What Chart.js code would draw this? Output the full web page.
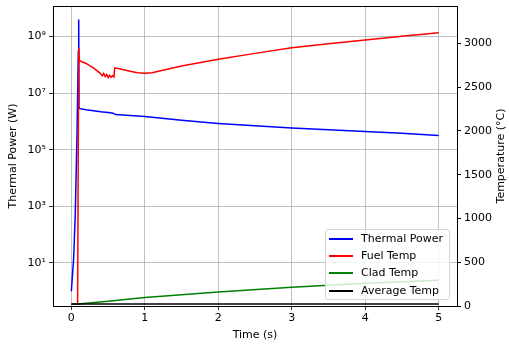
<!DOCTYPE html>
<html>
<head>
<meta charset="utf-8">
<script src="https://cdn.jsdelivr.net/npm/chart.js@4.4.0/dist/chart.umd.min.js"></script>
<style>
    body { margin: 0; background: #fff; }
    .chartbox { position: relative; width: 509px; height: 344px; }
    .chart-legend {
        position: absolute; left: 325px; top: 229px; width: 125px; height: 71px;
        margin: 0; padding: 0; list-style: none; box-sizing: border-box;
        border: 1px solid #d6d6d6; border-radius: 3px; background: rgba(255,255,255,0.8);
        font: 11px "DejaVu Sans", sans-serif; color: #000;
    }
    .chart-legend li { position: absolute; left: 0; height: 14px; line-height: 14px; white-space: nowrap; }
    .legend-color { display: inline-block; width: 24px; height: 0; border-top: 2px solid; vertical-align: middle; margin: 0 8px 0 3px; }
</style>
</head>
<body>
<div class="chartbox">
    <canvas id="myChart" width="509" height="344"></canvas>
</div>
<script>
// values
var powerTime = [0, 0.014, 0.031, 0.054, 0.077, 0.095, 0.1, 0.104, 0.125, 0.2, 0.3, 0.4, 0.5, 0.57, 0.6, 0.7, 1.0, 1.5, 2, 2.5, 3, 3.5, 4, 4.5, 5];
var thermalPower = [1, 3.5, 14, 630, 4e5, 3e8, 4e9, 2.9e6, 2.8e6, 2.6e6, 2.4e6, 2.2e6, 2.05e6, 1.95e6, 1.75e6, 1.68e6, 1.5e6, 1.1e6, 8.5e5, 7e5, 5.9e5, 5.1e5, 4.4e5, 3.8e5, 3.2e5];

var fuelTime = [0, 0.085, 0.1, 0.11, 0.2, 0.3, 0.39, 0.42, 0.44, 0.46, 0.48, 0.5, 0.52, 0.54, 0.56, 0.58, 0.59, 0.7, 0.8, 0.9, 1.0, 1.1, 1.2, 1.5, 2, 2.5, 3, 3.5, 4, 4.5, 5];
var fuelTemp = [20, 20, 2950, 2800, 2770, 2720, 2660, 2630, 2655, 2620, 2645, 2610, 2635, 2612, 2630, 2615, 2720, 2700, 2680, 2665, 2657, 2665, 2684, 2740, 2817, 2885, 2950, 2995, 3038, 3080, 3121];

var cladTime = [0, 0.09, 0.5, 1, 2, 3, 4, 5];
var cladTemp = [20, 22, 55, 96, 160, 215, 260, 295];

var avgTime = [0, 5];
var avgTemp = [24, 24];

var xTicks = [0, 1, 2, 3, 4, 5];
var powerTicks = [1e1, 1e3, 1e5, 1e7, 1e9];
var powerTickLabels = ['10¹', '10³', '10⁵', '10⁷', '10⁹'];
var tempTicks = [0, 500, 1000, 1500, 2000, 2500, 3000];

function pts(xs, ys) {
    return xs.map(function (x, i) { return { x: x, y: ys[i] }; });
}

var FONT = { family: '"DejaVu Sans", sans-serif', size: 11 };
var GRID = '#b0b0b0';

var framePlugin = {
    id: 'frame',
    afterDatasetsDraw: function (chart) {
        var a = chart.chartArea, c = chart.ctx;
        c.save();
        c.strokeStyle = '#000';
        c.lineWidth = 1;
        c.strokeRect(Math.round(a.left) + 0.5, Math.round(a.top) + 0.5, Math.round(a.right - a.left), Math.round(a.bottom - a.top));
        // right axis title reads bottom to top, like the left one
        c.translate(501, (a.top + a.bottom) / 2);
        c.rotate(-Math.PI / 2);
        c.font = FONT.size + 'px ' + FONT.family;
        c.fillStyle = '#000';
        c.textAlign = 'center';
        c.textBaseline = 'middle';
        c.fillText('Temperature (°C)', 0, 0);
        c.restore();
    }
};

// fixed box sizes so the plot area sits where the reference has it
function fitBox(w, h) {
    return function (s) {
        if (w) s.width = w;
        if (h) s.height = h;
        s.paddingTop = 0; s.paddingBottom = 0; s.paddingLeft = 0; s.paddingRight = 0;
    };
}

var ctx = document.getElementById('myChart').getContext('2d');
var myChart = new Chart(ctx, {
    type: 'line',
    data: {
        datasets: [
            { label: 'Thermal Power', data: pts(powerTime, thermalPower), borderColor: '#0000ff', yAxisID: 'y', order: 4 },
            { label: 'Fuel Temp', data: pts(fuelTime, fuelTemp), borderColor: '#ff0000', yAxisID: 'y2', order: 3 },
            { label: 'Clad Temp', data: pts(cladTime, cladTemp), borderColor: '#008000', yAxisID: 'y2', order: 2 },
            { label: 'Average Temp', data: pts(avgTime, avgTemp), borderColor: '#000000', yAxisID: 'y2', order: 1 }
        ]
    },
    options: {
        responsive: false,
        animation: false,
        layout: { autoPadding: false, padding: { top: 6, left: 0, right: 0, bottom: 0 } },
        elements: {
            point: { radius: 0 },
            line: { borderWidth: 1.5, tension: 0, fill: false }
        },
        plugins: {
            legend: { display: false },
            tooltip: { enabled: false }
        },
        scales: {
            x: {
                type: 'linear',
                min: -0.25,
                max: 5.25,
                afterBuildTicks: function (s) { s.ticks = xTicks.map(function (v) { return { value: v }; }); },
                afterFit: fitBox(0, 38),
                ticks: { font: FONT, color: '#000', padding: 2, maxRotation: 0 },
                grid: { color: GRID, lineWidth: 0.8, tickColor: '#000', tickLength: 4 },
                border: { display: true, color: '#000' },
                title: { display: true, text: 'Time (s)', font: FONT, color: '#000', padding: { top: 2, bottom: 2 } }
            },
            y: {
                type: 'logarithmic',
                position: 'left',
                min: 0.33,
                max: 1.2e10,
                afterBuildTicks: function (s) { s.ticks = powerTicks.map(function (v) { return { value: v }; }); },
                afterFit: fitBox(53, 0),
                ticks: {
                    font: FONT, color: '#000', padding: 3,
                    callback: function (v) { var i = powerTicks.indexOf(v); return i >= 0 ? powerTickLabels[i] : ''; }
                },
                grid: { color: GRID, lineWidth: 0.8, tickColor: '#000', tickLength: 4 },
                border: { display: true, color: '#000' },
                title: { display: true, text: 'Thermal Power (W)', font: FONT, color: '#000', padding: { top: 7, bottom: 2 } }
            },
            y2: {
                type: 'linear',
                position: 'right',
                min: 0,
                max: 3426,
                afterBuildTicks: function (s) { s.ticks = tempTicks.map(function (v) { return { value: v }; }); },
                afterFit: fitBox(52, 0),
                ticks: { font: FONT, color: '#000', padding: 3, callback: function (v) { return String(v); } },
                grid: { drawOnChartArea: false, tickColor: '#000', tickLength: 4 },
                border: { display: true, color: '#000' }
            }
        }
    },
    plugins: [framePlugin]
});

// legend box, inside the plot at the lower right
var listContainer = document.createElement('ul');
listContainer.classList.add('chart-legend');
myChart.data.datasets.forEach(function (dataset, index) {
    var listItem = document.createElement('li');
    listItem.style.top = (2 + index * 17.2) + 'px';
    var colorBox = document.createElement('span');
    colorBox.style.borderColor = dataset.borderColor;
    colorBox.classList.add('legend-color');
    listItem.appendChild(colorBox);
    listItem.appendChild(document.createTextNode(dataset.label));
    listContainer.appendChild(listItem);
});
myChart.canvas.parentNode.appendChild(listContainer);
</script>
</body>
</html>
